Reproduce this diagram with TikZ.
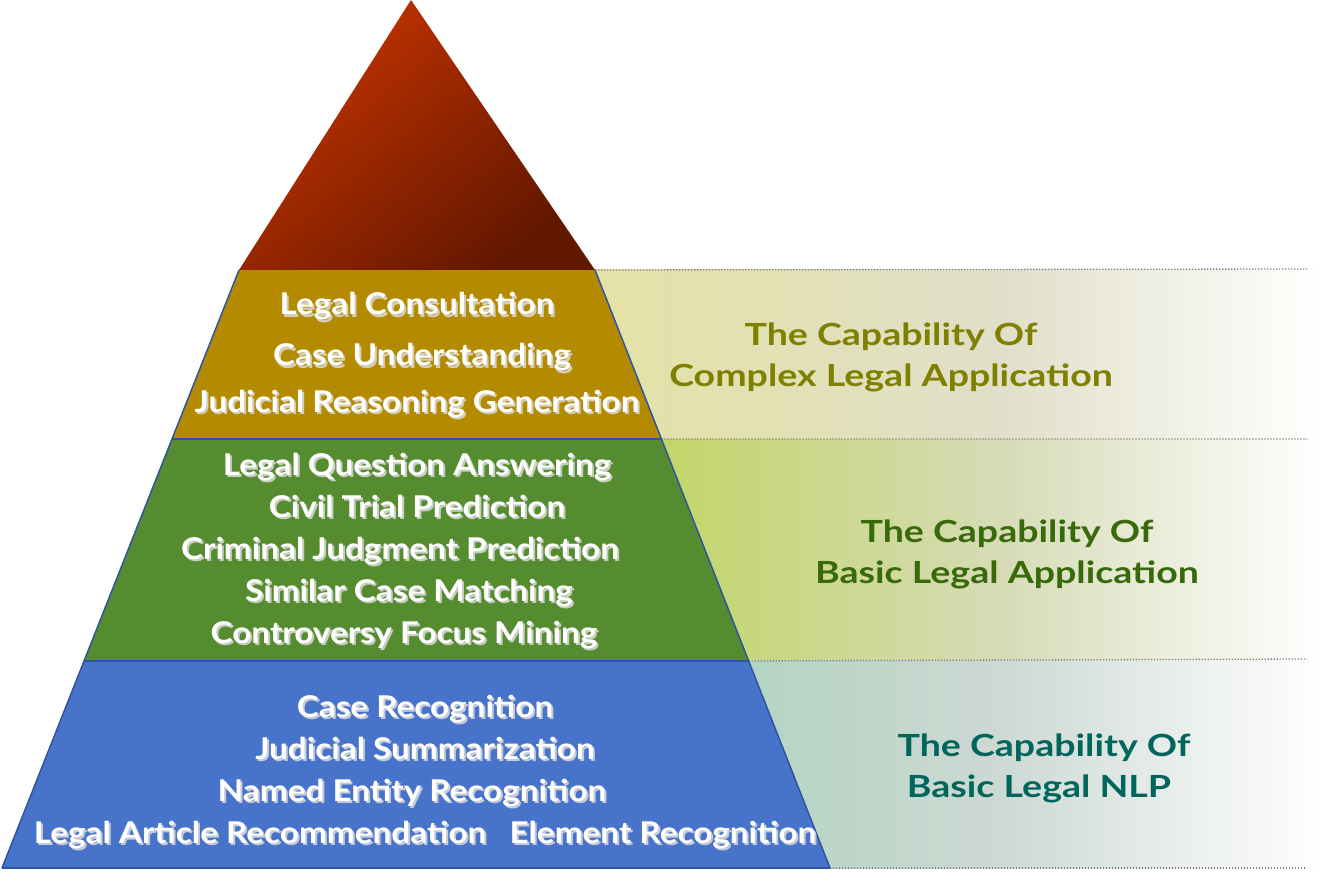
\documentclass[tikz,border=0pt]{standalone}
\usepackage{fontspec}
\setmainfont{Lato}
\usetikzlibrary{calc}
\definecolor{gold}{HTML}{B48A00}
\definecolor{grn}{HTML}{568C30}
\definecolor{blu}{HTML}{4773CA}
\definecolor{edgeblue}{HTML}{2F55A0}
\definecolor{triA}{HTML}{C63400}
\definecolor{triB}{HTML}{621700}
\definecolor{bandAa}{HTML}{E4E2A4}
\definecolor{bandAb}{HTML}{E0DFC9}
\definecolor{bandBa}{HTML}{C2D566}
\definecolor{bandBb}{HTML}{D6DBB6}
\definecolor{bandCa}{HTML}{B3D4C3}
\definecolor{bandCb}{HTML}{CDD9D3}
\definecolor{olivetext}{HTML}{808000}
\definecolor{greentext}{HTML}{386A0C}
\definecolor{tealtext}{HTML}{00665C}
\definecolor{dotgray}{HTML}{7F7F7F}
\definecolor{shadowgray}{HTML}{DADADA}
\newcommand\shlbl[4]{%
  \node[shadowtext] (#1s) at (#2+2,#3+2.5) {#4};
  \node[whitetext] (#1) at (#2,#3) {#4};}
\begin{document}
\begin{tikzpicture}[x=1pt,y=-1pt,
  whitetext/.style={anchor=base,text=white,font=\fontsize{30}{36}\selectfont\bfseries,inner sep=0pt,xscale=1.11},
  shadowtext/.style={anchor=base,text=shadowgray,text opacity=0.85,font=\fontsize{30}{36}\selectfont\bfseries,inner sep=0pt,xscale=1.11},
  captext/.style={anchor=base,font=\fontsize{30.5}{36}\selectfont\bfseries,inner sep=0pt,xscale=1.23},
  edgeline/.style={draw=edgeblue,line width=1.5pt},
  dotline/.style={draw=dotgray,line width=1.3pt,dash pattern=on 1.3pt off 1.7pt}]
\useasboundingbox (0,0) rectangle (1328,885);
% pyramid outline points
\coordinate (L0) at (239,270);
\coordinate (L3) at (2,868);
\coordinate (R0) at (595,270);
\coordinate (R3) at (830,868);
\coordinate (L1) at ($(L0)!0.2826!(L3)$);
\coordinate (L2) at ($(L0)!0.6538!(L3)$);
\coordinate (R1) at ($(R0)!0.2826!(R3)$);
\coordinate (R2) at ($(R0)!0.6538!(R3)$);
\coordinate (apex) at (411,0);
% bands
\fill[left color=bandAa,right color=bandAb] (590,270) rectangle (1000,439);
\fill[left color=bandAb,right color=white] (1000,270) rectangle (1322,439);
\fill[left color=bandBa,right color=bandBb] (650,439) rectangle (1000,660);
\fill[left color=bandBb,right color=white] (1000,439) rectangle (1322,660);
\fill[left color=bandCa,right color=bandCb] (740,660) rectangle (1000,868);
\fill[left color=bandCb,right color=white] (1000,660) rectangle (1322,868);
% dotted separators
\draw[dotline] (R0) -- (1307,269);
\draw[dotline] (R1) -- (1307,439);
\draw[dotline] (R2) -- (1307,659);
\draw[dotline] (R3) -- (1305,868);
% pyramid
\fill[gold] (L0) -- (R0) -- (R1) -- (L1) -- cycle;
\fill[grn] (L1) -- (R1) -- (R2) -- (L2) -- cycle;
\fill[blu] (L2) -- (R2) -- (R3) -- (L3) -- cycle;
\shade[top color=triA,bottom color=triB,shading angle=40] (apex) -- (R0) -- (L0) -- cycle;
\draw[edgeline] (L0) -- (L3);
\draw[edgeline] (R0) -- (R3);
\draw[edgeline] (L1) -- (R1);
\draw[edgeline] (L2) -- (R2);
\draw[edgeline] (L3) -- (R3);
% labels in the pyramid
\shlbl{lc}{417}{315}{Legal Consultation}
\shlbl{cu}{422}{366}{Case Understanding}
\shlbl{jrg}{417}{412}{Judicial Reasoning Generation}
\shlbl{lqa}{417}{475}{Legal Question Answering}
\shlbl{ctp}{417}{517}{Civil Trial Prediction}
\shlbl{cjp}{400}{559}{Criminal Judgment Prediction}
\shlbl{scm}{409}{601}{Similar Case Matching}
\shlbl{cfm}{404}{643}{Controversy Focus Mining}
\shlbl{cr}{425}{717}{Case Recognition}
\shlbl{js}{425}{759}{Judicial Summarization}
\shlbl{ner}{412}{801}{Named Entity Recognition}
\shlbl{lar}{260}{843}{Legal Article Recommendation}
\shlbl{er}{663}{843}{Element Recognition}
% capability labels
\node[captext,text=olivetext] (c1a) at (891,345) {The Capability Of};
\node[captext,text=olivetext] (c1b) at (891,386) {Complex Legal Application};
\node[captext,text=greentext] (c2a) at (1007,542) {The Capability Of};
\node[captext,text=greentext] (c2b) at (1007,583) {Basic Legal Application};
\node[captext,text=tealtext] (c3a) at (1044,756) {The Capability Of};
\node[captext,text=tealtext] (c3b) at (1039,797) {Basic Legal NLP};
\end{tikzpicture}
\end{document}
